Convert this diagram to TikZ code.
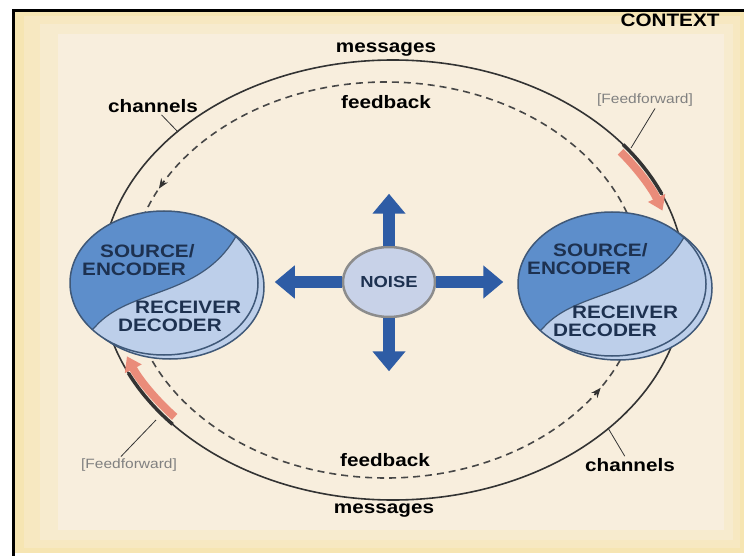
\documentclass[tikz,border=0pt]{standalone}
\usepackage{fontspec}
\setmainfont{Liberation Sans}[FakeStretch=1.15]
\usepackage{tikz}
\usetikzlibrary{positioning,shapes.geometric,arrows.meta,calc}

\definecolor{paper}{HTML}{F8EEDD}
\definecolor{margin}{HTML}{F6E5B2}
\definecolor{ink}{HTML}{333333}
\definecolor{navy}{HTML}{1D3150}
\definecolor{deepblue}{HTML}{5D8ECB}
\definecolor{paleblue}{HTML}{BDCFEA}
\definecolor{rim}{HTML}{3F5878}
\definecolor{arrowblue}{HTML}{2E5CA5}
\definecolor{salmon}{HTML}{EA8C7A}
\definecolor{noisefill}{HTML}{C8D2E8}

\begin{document}
\begin{tikzpicture}[x=1pt, y=-1pt, node distance=52pt,
  tag/.style = {font=\fontsize{18}{20}\selectfont\bfseries, inner sep=2pt},
  ffwd/.style = {font=\fontsize{13.5}{15}\selectfont, text=black!50, inner sep=2pt},
  role/.style = {font=\fontsize{18}{18}\selectfont\bfseries, text=navy, align=left, inner sep=0pt, anchor=north west},
  party/.style = {draw=rim, line width=1.5, ellipse, minimum width=188, minimum height=144, inner sep=0pt},
  noisebox/.style = {draw=black!45, line width=2.5, fill=noisefill, ellipse, minimum width=92, minimum height=70, inner sep=0pt, font=\fontsize{16}{16}\selectfont\bfseries, text=navy},
  push/.style = {draw=arrowblue, line width=12, -{Triangle[width=32pt,length=20pt]}},
  lead/.style = {draw=ink, line width=0.8},
  loop/.style = {draw=ink, line width=1.6},
  back/.style = {draw=ink!90, line width=1.6, dash pattern=on 7pt off 5pt},
  fwd/.style = {draw=salmon, line width=8, -{Triangle[width=18pt,length=14pt]}}]

\useasboundingbox (0,0) rectangle (744,556);
\fill[white] (0,0) rectangle (744,556);
\fill[margin] (13,11) rectangle (744,553);
\fill[paper!35!margin] (24,16) rectangle (740,548);
\fill[paper!65!margin] (40,24) rectangle (733,540);
\fill[paper] (58,34) rectangle (724,530);
\draw[black, line width=3] (13,556) -- (13,11) -- (744,11);

\draw[loop] (393,280) ellipse [x radius=292, y radius=220];
\draw[back] (386,280) ellipse [x radius=256, y radius=198];
\draw[ink, line width=1.4, -{Stealth[length=10pt,width=8pt]}] ($(386,280)+(-150:256 and 198)$) arc[start angle=-150, end angle=-152.5, x radius=256, y radius=198];
\draw[ink, line width=1.4, -{Stealth[length=10pt,width=8pt]}] ($(386,280)+(35.5:256 and 198)$) arc[start angle=35.5, end angle=33, x radius=256, y radius=198];

\draw[fwd] ($(393,280)+(-37:285 and 213)$) arc[start angle=-37, end angle=-19, x radius=285, y radius=213];
\draw[ink, line width=3.5] ($(393,280)+(-38:292 and 220)$) arc[start angle=-38, end angle=-23, x radius=292, y radius=220];
\draw[fwd] ($(393,280)+(140:285 and 213)$) arc[start angle=140, end angle=159, x radius=285, y radius=213];
\draw[ink, line width=3.5] ($(393,280)+(139:292 and 220)$) arc[start angle=139, end angle=155, x radius=292, y radius=220];

\node[tag] (msg1) at (386,50) {messages};
\node[tag] (fb1) at (386,102) {feedback};
\node[tag] (fb2) at (385,460) {feedback};
\node[tag] (msg2) at (384,511) {messages};
\node[tag] (ctx) at (670,20) {CONTEXT};

\node[tag] (ch1) at (153,106) {channels};
\coordinate (ch1e) at (178,132);
\draw[lead] (ch1) -- (ch1e);
\node[tag] (ch2) at (630,465) {channels};
\coordinate (ch2e) at (608,428);
\draw[lead] (ch2) -- (ch2e);
\node[ffwd] (ff1) at (645,100) {[Feedforward]};
\coordinate (ff1e) at (631,148);
\draw[lead] ([xshift=10pt]ff1.south) -- (ff1e);
\node[ffwd] (ff2) at (129,465) {[Feedforward]};
\coordinate (ff2e) at (156,420);
\draw[lead] ([xshift=-8pt]ff2.north) -- (ff2e);

\fill[paleblue, draw=rim, line width=1.5] (170,287) ellipse [x radius=94, y radius=72];
\begin{scope}
  \clip (164,283) ellipse [x radius=94, y radius=72];
  \fill[paleblue] (164,283) ellipse [x radius=94, y radius=72];
  \fill[deepblue] (85,337) -- (95,327) .. controls (129,288) and (199,298) .. (235,238) -- (243,226) -- (243,200) -- (60,200) -- (60,337) -- cycle;
  \draw[rim, line width=1.2] (85,337) -- (95,327) .. controls (129,288) and (199,298) .. (235,238) -- (243,226);
\end{scope}
\node[party] (src1) at (164,283) {};
\node[role] (enc1) at (82,244) {\hspace*{18pt}SOURCE/\\ENCODER};
\node[role] (dec1) at (118,301) {\hspace*{17pt}RECEIVER\\DECODER};

\fill[paleblue, draw=rim, line width=1.5] (618,288) ellipse [x radius=94, y radius=72];
\begin{scope}
  \clip (612,284) ellipse [x radius=94, y radius=72];
  \fill[paleblue] (612,284) ellipse [x radius=94, y radius=72];
  \fill[deepblue] (533,338) -- (543,328) .. controls (577,289) and (647,299) .. (683,239) -- (691,227) -- (691,200) -- (510,200) -- (510,338) -- cycle;
  \draw[rim, line width=1.2] (533,338) -- (543,328) .. controls (577,289) and (647,299) .. (683,239) -- (691,227);
\end{scope}
\node[party] (src2) at (612,284) {};
\node[role] (enc2) at (527,243) {\hspace*{26pt}SOURCE/\\ENCODER};
\node[role] (dec2) at (553,306) {\hspace*{19pt}RECEIVER\\DECODER};

\node[noisebox] (noise) at (389,282) {NOISE};
\coordinate[above=of noise] (up);
\coordinate[below=53pt of noise] (down);
\coordinate[left=67pt of noise] (west);
\coordinate[right=67pt of noise] (east);
\draw[push] (noise) -- (up);
\draw[push] (noise) -- (down);
\draw[push] (noise) -- (west);
\draw[push] (noise) -- (east);
\end{tikzpicture}
\end{document}
